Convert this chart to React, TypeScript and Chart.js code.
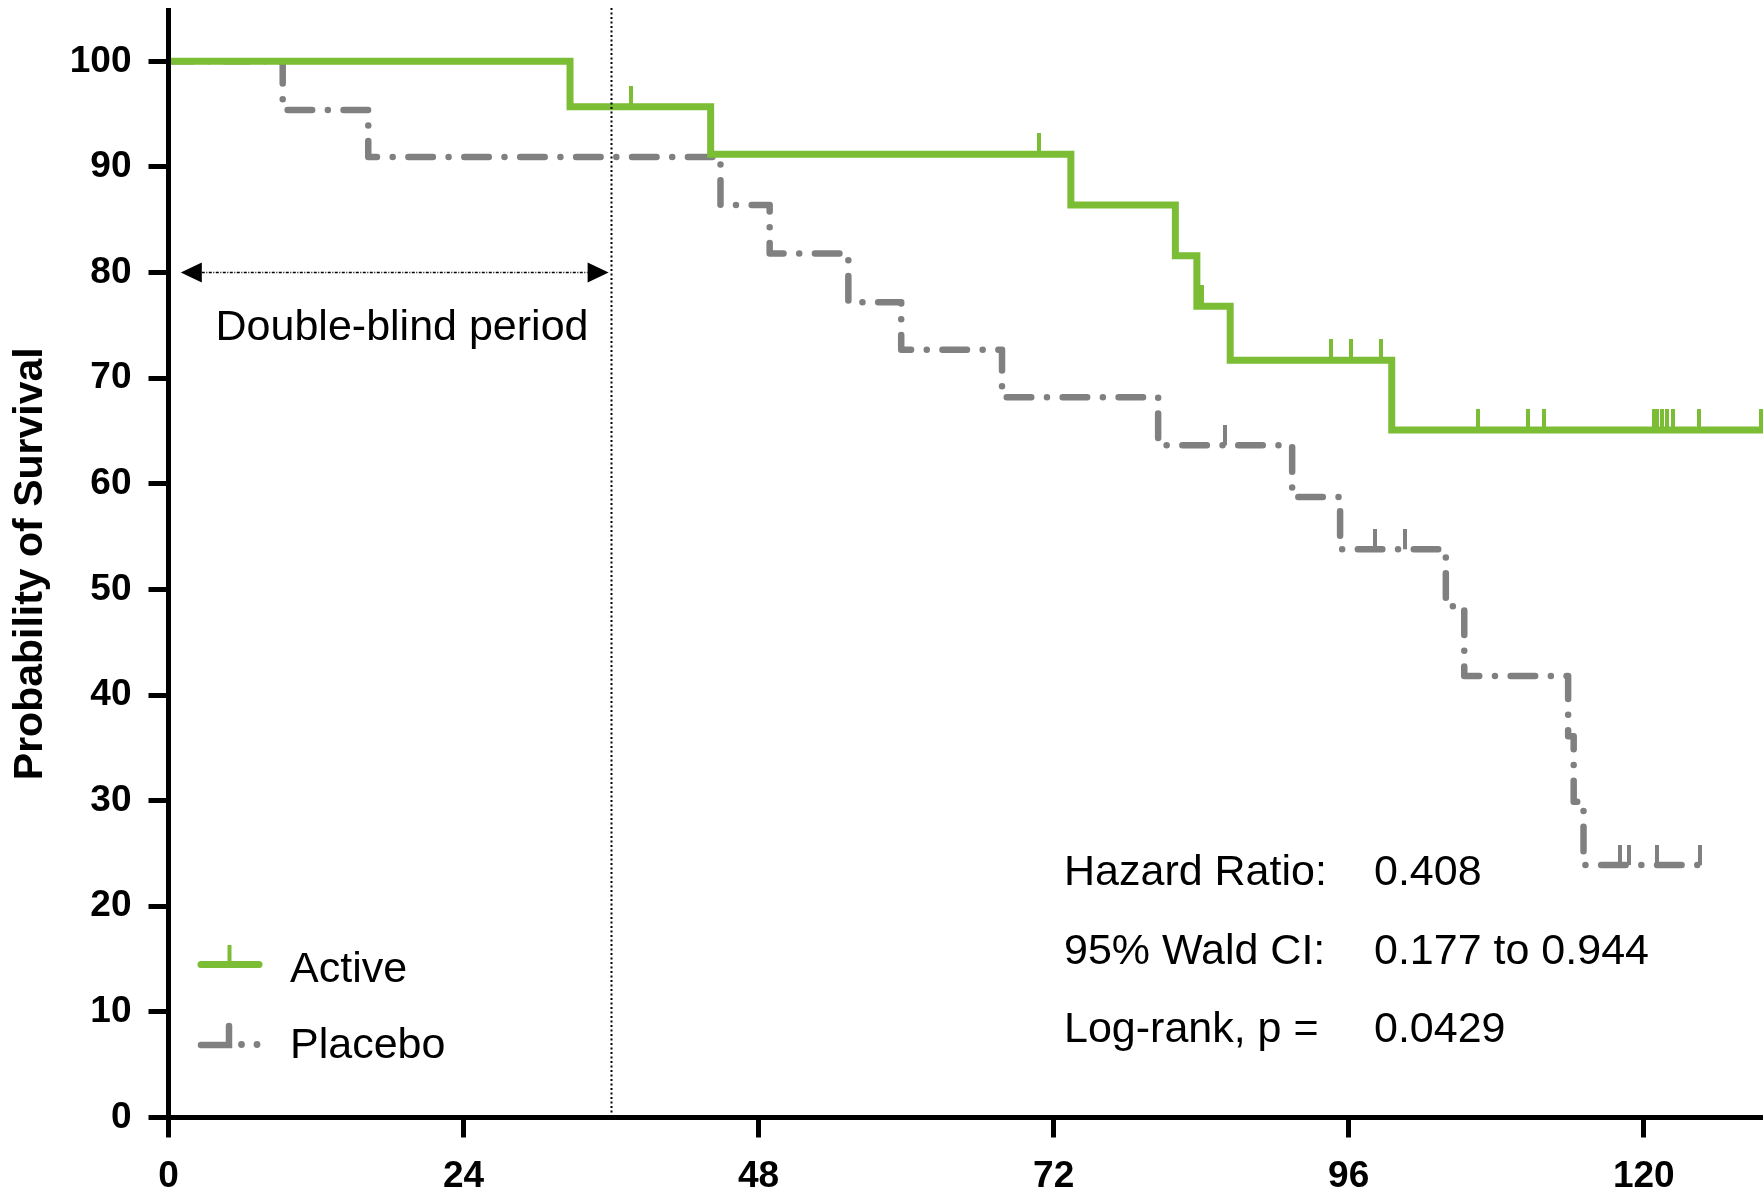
import React, { useEffect, useRef } from "react";
import { Chart, registerables } from "chart.js";

Chart.register(...registerables);

// ---------- data ----------
const activeTimes = [0, 32.66, 44.1, 73.4, 81.9, 83.65, 86.36, 99.5, 130];
const activeSurvival = [100, 95.7, 91.2, 86.4, 81.6, 76.8, 71.7, 65.1, 65.1];
const activeCensorTimes = [37.6, 70.8, 84.1, 94.6, 96.2, 98.6, 106.5, 110.6, 111.9, 120.8, 121.1, 121.5, 121.9, 122.4, 124.5, 129.5];

const placeboTimes = [0, 9.29, 16.25, 44.9, 48.9, 55.3, 59.6, 67.8, 80.5, 91.4, 95.3, 103.9, 105.4, 113.85, 114.3, 115.1, 124.6];
const placeboSurvival = [100, 95.4, 90.95, 86.4, 81.8, 77.2, 72.7, 68.2, 63.65, 58.75, 53.8, 48.4, 41.8, 36.1, 29.9, 23.9, 23.9];
const placeboCensorTimes = [85.9, 98.1, 100.6, 118.1, 118.8, 121.1, 124.6];

const xTickValues = [0, 24, 48, 72, 96, 120];
const yTickValues = [0, 10, 20, 30, 40, 50, 60, 70, 80, 90, 100];

const seriesNames = ["Active", "Placebo"];
const yAxisTitle = "Probability of Survival";
const periodLabel = "Double-blind period";
const doubleBlindEnd = 36;
const arrowStart = 1.0;
const arrowEnd = 35.8;
const arrowLevel = 80;

const statLabels = ["Hazard Ratio:", "95% Wald CI:", "Log-rank, p ="];
const statValues = ["0.408", "0.177 to 0.944", "0.0429"];

// ---------- styles ----------
const GREEN = "#7bbd35";
const GRAY = "#808080";
const FONT = "'Liberation Sans', Arial, Helvetica, sans-serif";

function survivalAt(times: number[], surv: number[], t: number) {
  let v = surv[0];
  for (let i = 0; i < times.length; i++) {
    if (times[i] <= t) v = surv[i];
  }
  return v;
}

function makeTick(color: string, w: number, h: number) {
  const c = document.createElement("canvas");
  c.width = w;
  c.height = h * 2;
  const g = c.getContext("2d")!;
  g.fillStyle = color;
  g.fillRect(0, 0, w, h);
  return c;
}

const annotationPlugin = {
  id: "kmAnnotations",
  afterDatasetsDraw(chart: any) {
    const { ctx, chartArea, scales } = chart;
    const x = scales.x;
    const y = scales.y;
    ctx.save();
    // vertical dotted line
    const xd = Math.round(x.getPixelForValue(doubleBlindEnd)) + 0.5;
    ctx.strokeStyle = "#000";
    ctx.lineWidth = 2;
    ctx.setLineDash([2, 2.5]);
    ctx.beginPath();
    ctx.moveTo(xd, chartArea.top - 2);
    ctx.lineTo(xd, chartArea.bottom);
    ctx.stroke();

    // double arrow
    const ya = y.getPixelForValue(arrowLevel);
    const xl = x.getPixelForValue(arrowStart);
    const xr = x.getPixelForValue(arrowEnd);
    const aL = 21;
    const aH = 10;
    ctx.lineWidth = 1.5;
    ctx.setLineDash([3, 1.5, 1, 1.5]);
    ctx.beginPath();
    ctx.moveTo(xl + aL, ya);
    ctx.lineTo(xr - aL, ya);
    ctx.stroke();
    ctx.setLineDash([]);
    ctx.fillStyle = "#000";
    ctx.beginPath();
    ctx.moveTo(xl, ya);
    ctx.lineTo(xl + aL, ya - aH);
    ctx.lineTo(xl + aL, ya + aH);
    ctx.closePath();
    ctx.fill();
    ctx.beginPath();
    ctx.moveTo(xr, ya);
    ctx.lineTo(xr - aL, ya - aH);
    ctx.lineTo(xr - aL, ya + aH);
    ctx.closePath();
    ctx.fill();
    ctx.restore();
  },
  afterDraw(chart: any) {
    const { ctx } = chart;
    ctx.save();
    ctx.fillStyle = "#000";
    ctx.font = `43px ${FONT}`;
    ctx.textBaseline = "alphabetic";

    // period label
    ctx.textAlign = "center";
    ctx.fillText(periodLabel, 402, 340);

    // stats
    ctx.textAlign = "left";
    const baselines = [885, 963.6, 1042.3];
    statLabels.forEach((s, i) => ctx.fillText(s, 1064, baselines[i]));
    statValues.forEach((s, i) => ctx.fillText(s, 1374, baselines[i]));

    // legend
    ctx.fillText(seriesNames[0], 290, 981.7);
    ctx.fillText(seriesNames[1], 290, 1058);

    // active symbol
    ctx.strokeStyle = GREEN;
    ctx.lineCap = "round";
    ctx.lineWidth = 7;
    ctx.beginPath();
    ctx.moveTo(201, 964.5);
    ctx.lineTo(259, 964.5);
    ctx.stroke();
    ctx.lineCap = "butt";
    ctx.lineWidth = 4;
    ctx.beginPath();
    ctx.moveTo(229.5, 945);
    ctx.lineTo(229.5, 964);
    ctx.stroke();

    // placebo symbol
    ctx.strokeStyle = GRAY;
    ctx.fillStyle = GRAY;
    ctx.lineCap = "round";
    ctx.lineWidth = 6.5;
    ctx.beginPath();
    ctx.moveTo(201, 1045);
    ctx.lineTo(229, 1045);
    ctx.lineTo(229, 1026);
    ctx.stroke();
    [241.5, 257].forEach((cx) => {
      ctx.beginPath();
      ctx.arc(cx, 1044.5, 3.4, 0, Math.PI * 2);
      ctx.fill();
    });
    ctx.restore();
  },
};

export default function App() {
  const canvasRef = useRef<HTMLCanvasElement | null>(null);

  useEffect(() => {
    const canvas = canvasRef.current;
    if (!canvas) return;
    const greenTick = makeTick(GREEN, 4, 21);
    const grayTick = makeTick(GRAY, 4, 20);

    const activeLine = activeTimes.map((t, i) => ({ x: t, y: activeSurvival[i] }));
    const placeboLine = placeboTimes.map((t, i) => ({ x: t, y: placeboSurvival[i] }));
    const activeCensors = activeCensorTimes.map((t) => ({ x: t, y: survivalAt(activeTimes, activeSurvival, t) }));
    const placeboCensors = placeboCensorTimes.map((t) => ({ x: t, y: survivalAt(placeboTimes, placeboSurvival, t) }));

    const tickFont = { family: FONT, size: 37, weight: "bold" as const };

    const chart = new Chart(canvas, {
      type: "line",
      data: {
        datasets: [
          {
            label: seriesNames[0],
            data: activeLine,
            stepped: "before",
            borderColor: GREEN,
            borderWidth: 7,
            borderCapStyle: "butt",
            borderJoinStyle: "miter",
            pointRadius: 0,
            fill: false,
          },
          {
            label: seriesNames[0] + " censored",
            data: activeCensors,
            showLine: false,
            pointStyle: greenTick as any,
            pointRadius: 5,
          },
          {
            label: seriesNames[1] + " censored",
            data: placeboCensors,
            showLine: false,
            pointStyle: grayTick as any,
            pointRadius: 5,
          },
          {
            label: seriesNames[1],
            data: placeboLine,
            stepped: "before",
            borderColor: GRAY,
            borderWidth: 6.5,
            borderDash: [24.5, 15.7, 0.01, 15.7],
            borderCapStyle: "round",
            borderJoinStyle: "round",
            pointRadius: 0,
            fill: false,
          },
        ],
      },
      options: {
        animation: false,
        responsive: false,
        devicePixelRatio: 1,
        events: [],
        layout: { autoPadding: false, padding: { top: 10, right: 0, bottom: 0, left: 0 } },
        plugins: {
          legend: { display: false },
          tooltip: { enabled: false },
          title: { display: false },
        },
        scales: {
          x: {
            type: "linear",
            min: 0,
            max: 129.7,
            afterBuildTicks: (s: any) => {
              s.ticks = xTickValues.map((v) => ({ value: v }));
            },
            afterFit: (s: any) => {
              s.height = 82.5;
              s.paddingLeft = 0;
              s.paddingRight = 0;
            },
            ticks: {
              autoSkip: false,
              maxRotation: 0,
              color: "#000",
              font: tickFont,
              padding: 17,
              callback: (v: any) => String(v),
            },
            grid: {
              drawOnChartArea: false,
              drawTicks: true,
              tickLength: 20,
              tickWidth: 5,
              tickColor: "#000",
            },
            border: { display: true, color: "#000", width: 5, z: 1 },
          },
          y: {
            type: "linear",
            min: 0,
            max: 104.86,
            afterBuildTicks: (s: any) => {
              s.ticks = yTickValues.map((v) => ({ value: v }));
            },
            afterFit: (s: any) => {
              s.width = 168.5;
              s.paddingTop = 0;
              s.paddingBottom = 0;
            },
            ticks: {
              autoSkip: false,
              color: "#000",
              font: tickFont,
              padding: 17,
              callback: (v: any) => String(v),
            },
            grid: {
              drawOnChartArea: false,
              drawTicks: true,
              tickLength: 20,
              tickWidth: 5,
              tickColor: "#000",
            },
            border: { display: true, color: "#000", width: 5, z: 1 },
            title: {
              display: true,
              text: yAxisTitle,
              color: "#000",
              font: { family: FONT, size: 41, weight: "bold" },
              padding: { top: 6, bottom: 0 },
            },
          },
        },
      },
      plugins: [annotationPlugin],
    });

    return () => chart.destroy();
  }, []);

  return (
    <div style={{ position: "absolute", left: 0, top: 0, width: 1763, height: 1200, background: "#fff" }}>
      <canvas ref={canvasRef} width={1763} height={1200} style={{ display: "block", width: 1763, height: 1200 }} />
    </div>
  );
}
